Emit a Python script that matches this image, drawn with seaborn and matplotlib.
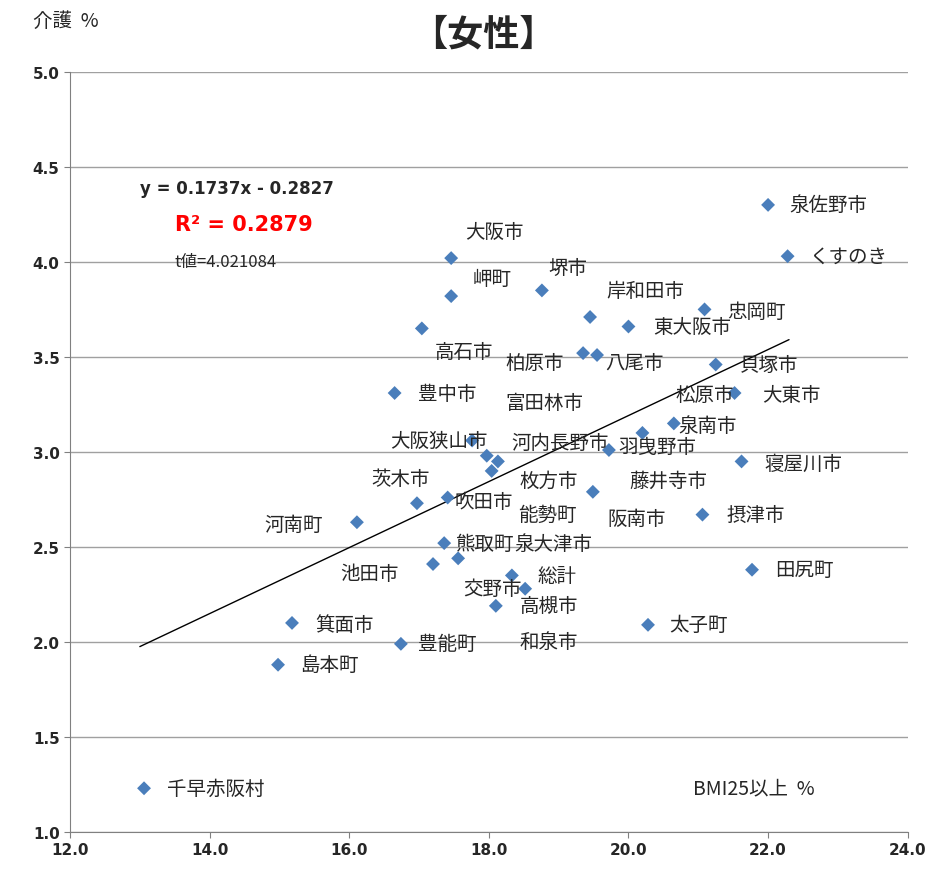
import matplotlib
matplotlib.use("Agg")
import matplotlib.pyplot as plt
import seaborn as sns
import numpy as np
import pandas as pd

sns.set_style("white")
plt.rcParams['font.family'] = ['Noto Sans CJK JP', 'DejaVu Sans']

# data points (BMI25以上 %, 介護 %)
bmi = [22.0, 22.28, 17.46, 17.46, 18.76, 19.45, 21.09, 20.0, 17.04, 19.35, 19.55, 21.25,
       16.65, 21.52, 20.65, 20.2, 19.72, 17.76, 17.97, 18.13, 18.04, 21.62, 19.49, 16.97,
       17.41, 21.06, 16.11, 17.36, 17.56, 17.2, 18.33, 18.52, 18.1, 21.77, 15.18, 20.28,
       16.74, 14.98, 13.06]
kaigo = [4.30, 4.03, 4.02, 3.82, 3.85, 3.71, 3.75, 3.66, 3.65, 3.52, 3.51, 3.46,
         3.31, 3.31, 3.15, 3.10, 3.01, 3.06, 2.98, 2.95, 2.90, 2.95, 2.79, 2.73,
         2.76, 2.67, 2.63, 2.52, 2.44, 2.41, 2.35, 2.28, 2.19, 2.38, 2.10, 2.09,
         1.99, 1.88, 1.23]

# label texts and their positions (data coords)
names = ['泉佐野市', 'くすのき', '大阪市', '岬町', '堺市', '岸和田市', '忠岡町', '東大阪市',
         '高石市', '柏原市', '八尾市', '貝塚市', '豊中市', '富田林市', '松原市', '大東市',
         '大阪狭山市', '河内長野市', '羽曳野市', '泉南市', '寝屋川市', '枚方市', '藤井寺市',
         '茨木市', '吹田市', '能勢町', '阪南市', '摂津市', '河南町', '熊取町', '泉大津市',
         '池田市', '総計', '交野市', '高槻市', '田尻町', '箕面市', '太子町', '豊能町',
         '和泉市', '島本町', '千早赤阪村']
label_x = [22.31, 22.6, 17.66, 17.77, 18.85, 19.68, 21.42, 20.36, 17.23, 18.23, 19.66, 21.59,
           16.98, 18.23, 20.68, 21.91, 16.58, 18.32, 19.85, 20.72, 21.95, 18.44, 20.02,
           16.31, 17.51, 18.42, 19.7, 21.41, 14.79, 17.51, 18.36, 15.87, 18.69, 17.63,
           18.44, 22.1, 15.51, 20.59, 16.98, 18.44, 15.29, 13.39]
label_y = [4.30, 4.03, 4.16, 3.91, 3.97, 3.85, 3.74, 3.66, 3.53, 3.47, 3.47, 3.46,
           3.31, 3.26, 3.30, 3.30, 3.06, 3.05, 3.03, 3.14, 2.94, 2.85, 2.85,
           2.86, 2.74, 2.67, 2.65, 2.67, 2.62, 2.52, 2.52, 2.36, 2.35, 2.28,
           2.19, 2.38, 2.09, 2.09, 1.99, 2.00, 1.88, 1.23]

slope, intercept = 0.1737, -0.2827

df = pd.DataFrame({'bmi': bmi, 'kaigo': kaigo})

fig = plt.figure(figsize=(9.3, 8.78), dpi=100)
ax = fig.add_axes([0.0753, 0.0513, 0.9007, 0.8657])

sns.scatterplot(data=df, x='bmi', y='kaigo', marker='D', s=50, color='#4a7ebb',
                edgecolor='none', ax=ax, zorder=3)

xs = np.array([13.0, 22.3])
ax.plot(xs, slope * xs + intercept, color='black', lw=1, zorder=2)

for n, lx, ly in zip(names, label_x, label_y):
    ax.text(lx, ly, n, fontsize=14, va='center', ha='left', zorder=4)

ax.set_xlim(12, 24)
ax.set_ylim(1.0, 5.0)
ax.set_xticks(np.arange(12, 24.1, 2))
ax.set_yticks(np.arange(1.0, 5.01, 0.5))
ax.set_xticklabels([f'{v:.1f}' for v in np.arange(12, 24.1, 2)], fontweight='bold', fontsize=11,
                   family='DejaVu Sans')
ax.set_yticklabels([f'{v:.1f}' for v in np.arange(1.0, 5.01, 0.5)], fontweight='bold', fontsize=11,
                   family='DejaVu Sans')
ax.yaxis.grid(True, color='#a0a0a0', lw=1)
ax.set_xlabel('')
ax.set_ylabel('')
for s in ['top', 'right']:
    ax.spines[s].set_visible(False)
for s in ['left', 'bottom']:
    ax.spines[s].set_color('#808080')
ax.tick_params(axis='both', length=4, color='#808080', direction='out', left=True, bottom=True)

ax.text(13.0, 4.39, 'y = 0.1737x - 0.2827', fontsize=12, fontweight='bold', va='center',
        family='DejaVu Sans')
ax.text(13.5, 4.2, 'R² = 0.2879', fontsize=15, fontweight='bold', color='red', va='center',
        family='DejaVu Sans')
ax.text(13.5, 4.0, 't値=4.021084', fontsize=12, va='center')
ax.text(21.8, 1.23, 'BMI25以上  %', fontsize=14, va='center', ha='center')

fig.text(0.52, 0.96, '【女性】', fontsize=26, fontweight='bold', ha='center', va='center')
fig.text(0.035, 0.975, '介護  %', fontsize=14, ha='left', va='center')

fig.savefig('out.png', dpi=100)
